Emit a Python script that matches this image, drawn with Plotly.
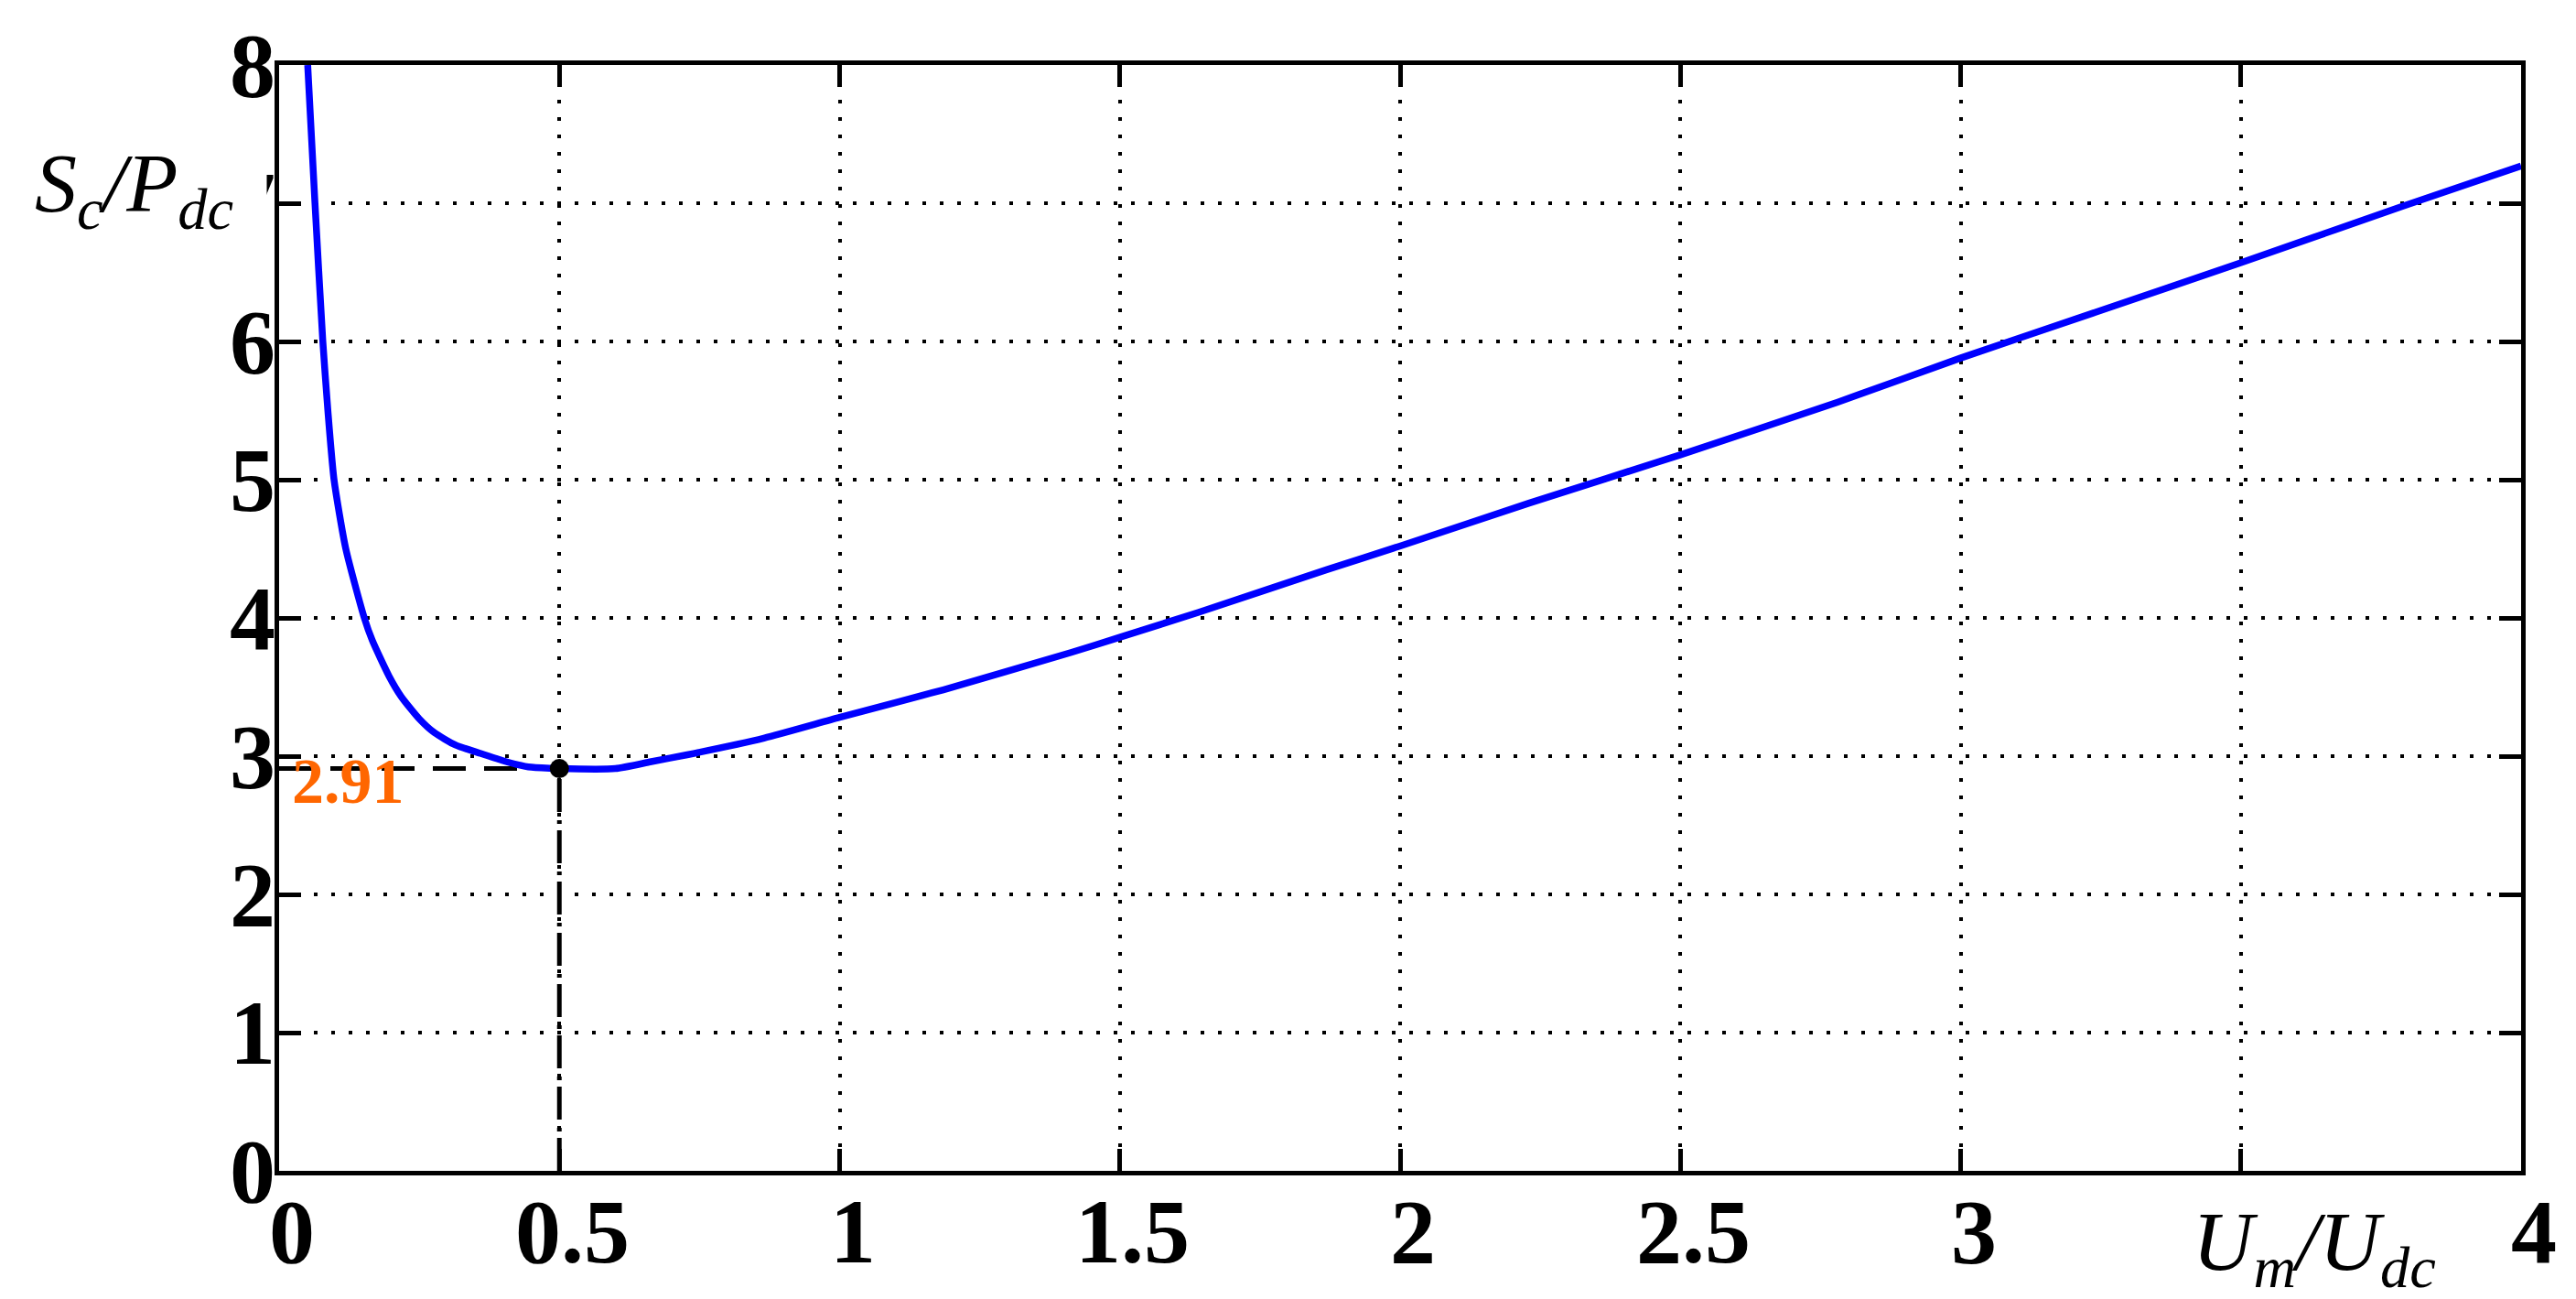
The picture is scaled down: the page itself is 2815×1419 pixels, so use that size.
import plotly.graph_objects as go

# curve
ratio_u = [0.051, 0.064, 0.078, 0.087, 0.098, 0.119, 0.152, 0.166, 0.196, 0.218,
           0.25, 0.277, 0.315, 0.359, 0.397, 0.424, 0.45, 0.5, 0.6, 0.664,
           0.728, 0.865, 1.0, 1.185, 1.413, 1.5, 1.64, 1.87, 2.0, 2.23,
           2.5, 2.78, 3.0, 3.24, 3.5, 3.79, 4.0]
ratio_s = [8.0, 7.0, 6.0, 5.5, 5.0, 4.5, 4.0, 3.84, 3.58, 3.43,
           3.27, 3.17, 3.08, 3.02, 2.97, 2.94, 2.92, 2.91, 2.91, 2.96,
           3.01, 3.13, 3.28, 3.48, 3.75, 3.86, 4.04, 4.35, 4.52, 4.83,
           5.18, 5.56, 5.88, 6.21, 6.57, 6.98, 7.27]

# optimum point and guide lines
opt_u = 0.5
opt_s = 2.91
hguide_u = [0, opt_u]
hguide_s = [opt_s, opt_s]
vguide_u = [opt_u, opt_u]
vguide_s = [0, opt_s]

x_ticks = [0, 0.5, 1, 1.5, 2, 2.5, 3, 3.5, 4]
x_ticktext = ["0", "0.5", "1", "1.5", "2", "2.5", "3", "", "4"]  # 3.5 label hidden by the title
y_ticks = [0, 1, 2, 3, 4, 5, 6, 7, 8]
y_ticktext = ["0", "1", "2", "3", "4", "5", "6", "7", "8"]

serif = "Liberation Serif"
tick_font = dict(family=serif, size=100, color="black", weight="bold")

fig = go.Figure()

fig.add_trace(go.Scatter(
    x=hguide_u, y=hguide_s, mode="lines",
    line=dict(color="black", width=5, dash="36px,20px"),
))
fig.add_trace(go.Scatter(
    x=vguide_u, y=vguide_s, mode="lines",
    line=dict(color="black", width=5, dash="36px,7px,4px,9px"),
))
fig.add_trace(go.Scatter(
    x=ratio_u, y=ratio_s, mode="lines",
    line=dict(color="#0000ff", width=7.5, shape="spline", smoothing=0.6),
))
fig.add_trace(go.Scatter(
    x=[opt_u], y=[opt_s], mode="markers",
    marker=dict(color="black", size=21),
))

axis_common = dict(
    showline=True, linecolor="black", linewidth=4.5, mirror="ticks",
    ticks="inside", ticklen=24, tickwidth=4.5, tickcolor="black",
    showgrid=True, gridcolor="black", gridwidth=4, griddash="4px,15px",
    zeroline=False, showticklabels=False,
)
fig.update_xaxes(range=[0, 4], tickvals=x_ticks, **axis_common)
fig.update_yaxes(range=[0, 8], tickvals=y_ticks, **axis_common)

# tick labels placed on the axes' scales (tighter than plotly's default standoff)
for v, t in zip(x_ticks, x_ticktext):
    if t:
        fig.add_annotation(
            text=t, x=v, y=0, xref="x", yref="paper", xanchor="center", yanchor="middle",
            xshift=14, yshift=-66, showarrow=False, font=tick_font,
        )
for v, t in zip(y_ticks, y_ticktext):
    fig.add_annotation(
        text=t, x=0, y=v, xref="paper", yref="y", xanchor="right", yanchor="middle",
        xshift=-2, showarrow=False, font=tick_font,
    )

# y title, white box hides most of the "7"
fig.add_annotation(
    text="<i>S</i><sub><i>c</i></sub><i>/P</i><sub><i>dc</i></sub>",
    xref="paper", yref="y", x=-0.1098, y=7.1, xanchor="left", yanchor="middle",
    width=252, align="left", bgcolor="white", showarrow=False,
    font=dict(family=serif, size=92, color="black"),
)
# x title sits where the 3.5 label would be
fig.add_annotation(
    text="<i>U</i><sub><i>m</i></sub><i>/U</i><sub><i>dc</i></sub>",
    xref="x", yref="paper", x=3.41, y=0, xanchor="left", yanchor="middle",
    yshift=-83, showarrow=False,
    font=dict(family=serif, size=92, color="black"),
)
fig.add_annotation(
    text="2.91", x=0.124, y=2.82, xanchor="center", yanchor="middle",
    showarrow=False,
    font=dict(family=serif, size=70, color="#ff6600", weight="bold"),
)

fig.update_layout(
    width=2815, height=1419,
    margin=dict(l=297, r=68, t=63, b=148),
    paper_bgcolor="white", plot_bgcolor="white",
    showlegend=False,
)

fig.write_html("out.html")
